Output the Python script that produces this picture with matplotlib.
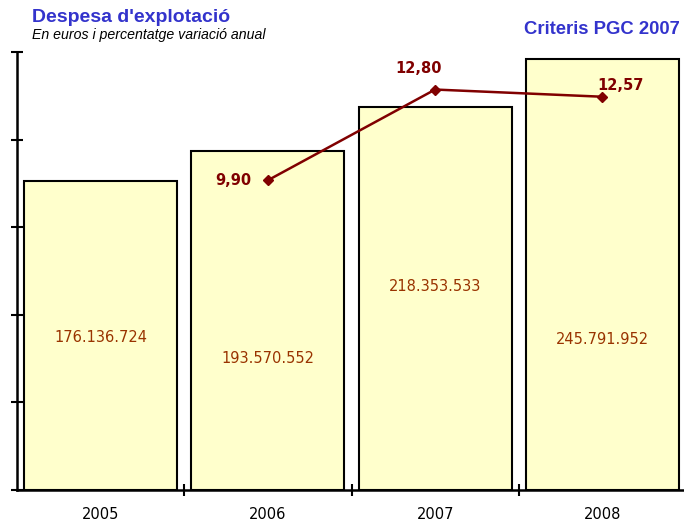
import matplotlib
matplotlib.use('Agg')
import matplotlib.pyplot as plt

# data
years = ['2005', '2006', '2007', '2008']
despesa = [176136724, 193570552, 218353533, 245791952]
despesa_txt = ['176.136.724', '193.570.552', '218.353.533', '245.791.952']
var_years = [1, 2, 3]
variacio = [9.90, 12.80, 12.57]
variacio_txt = ['9,90', '12,80', '12,57']

# label placement (data units of the left axis)
lab_y = [87e6, 75e6, 116e6, 86e6]

BLUE = '#3333CC'
DRED = '#800000'
BROWN = '#993300'

fig = plt.figure(figsize=(6.84, 5.23), dpi=100)
ax = fig.add_axes([17/684, 33/523, 669/684, 438/523])

x = range(len(years))
ax.bar(x, despesa, width=0.915, color='#FFFFCC', edgecolor='black', linewidth=1.5, zorder=2)
for i in x:
	ax.text(i, lab_y[i], despesa_txt[i], ha='center', va='center', fontsize=10.5,
			color=BROWN, family='DejaVu Sans', zorder=3)

ax.set_xlim(-0.5, 3.5)
ax.set_ylim(0, 250e6)
ax.set_yticks([0, 50e6, 100e6, 150e6, 200e6, 250e6])
ax.set_yticklabels([])
ax.set_xticks([0.5, 1.5, 2.5, 3.5], minor=False)
ax.set_xticklabels([])
ax.set_xticks(list(x), minor=True)
ax.set_xticklabels(years, minor=True, fontsize=10.5, family='DejaVu Sans')
ax.tick_params(axis='x', which='minor', length=0, pad=12)
ax.tick_params(axis='both', which='major', direction='inout', length=8, width=1.5)
for s in ['top', 'right']:
	ax.spines[s].set_visible(False)
for s in ['left', 'bottom']:
	ax.spines[s].set_linewidth(1.8)
	ax.spines[s].set_zorder(4)

ax2 = ax.twinx()
ax2.set_ylim(0, 14)
ax2.axis('off')
ax2.plot(var_years, variacio, color=DRED, linewidth=1.8, marker='D', markersize=5.5)
offs = [(-25, 0), (-12, 15), (13, 8)]
for i in range(len(var_years)):
	ax2.annotate(variacio_txt[i], (var_years[i], variacio[i]), xytext=offs[i],
				 textcoords='offset points', ha='center', va='center',
				 fontsize=10.5, fontweight='bold', color=DRED, family='DejaVu Sans')

fig.text(32/684, 1 - 18/523, "Despesa d'explotació", fontsize=14, fontweight='bold',
		 color=BLUE, family='Liberation Sans', va='center')
fig.text(32/684, 1 - 35/523, 'En euros i percentatge variació anual', fontsize=10.2,
		 style='italic', color='black', family='Liberation Sans', va='center')
fig.text(680/684, 1 - 30/523, 'Criteris PGC 2007', fontsize=13.3, fontweight='bold',
		 color=BLUE, family='Liberation Sans', va='center', ha='right')

plt.savefig('out.png', dpi=100)
